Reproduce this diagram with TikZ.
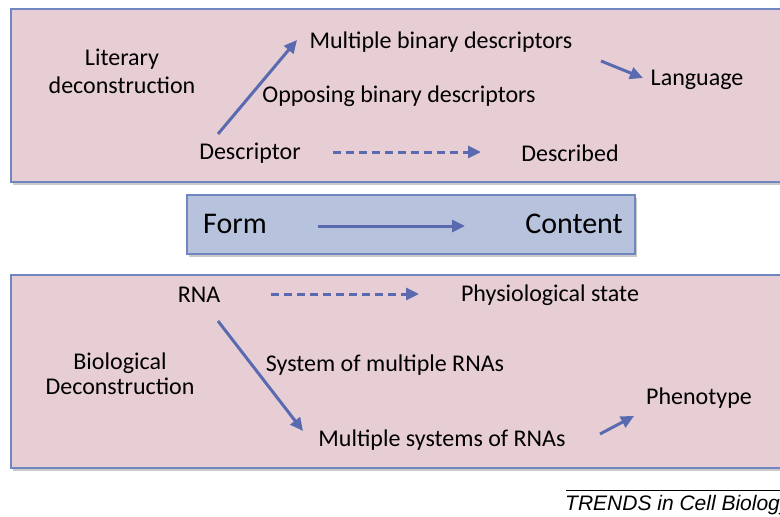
\documentclass[tikz,border=0pt]{standalone}
\usepackage{fontspec}
\setmainfont{Carlito}
\newfontfamily\arialf{Liberation Sans}
\usetikzlibrary{arrows.meta,shadows}
\definecolor{boxpink}{HTML}{E7CED5}
\definecolor{boxblue}{HTML}{B7C2DD}
\definecolor{edgeblue}{HTML}{6F86C0}
\definecolor{arrowblue}{HTML}{5A6AB0}
\tikzset{
  panel/.style={draw=edgeblue, line width=2.6pt, drop shadow={shadow xshift=1.5pt, shadow yshift=-2.5pt, fill=black!35, opacity=0.6}},
  lbl/.style={inner sep=0pt, font=\fontsize{24}{28}\selectfont, text=black},
  big/.style={inner sep=0pt, font=\fontsize{30}{33}\selectfont, text=black},
  conn/.style={draw=arrowblue, line width=3pt, -{Triangle[length=13pt,width=12pt]}, shorten >=0pt},
  dconn/.style={conn, dash pattern=on 8pt off 5pt},
}
\begin{document}
\begin{tikzpicture}[x=1pt,y=-1pt]
\useasboundingbox (0,0) rectangle (780,517);
% panels
\path[panel, fill=boxpink] (11,9) rectangle (795,182);
\path[panel, fill=boxblue] (187,195) rectangle (635,254);
\path[panel, fill=boxpink] (11,275) rectangle (795,468);
% top panel texts
\node[lbl, align=center, font=\fontsize{24}{28}\selectfont] (lit) at (122,71) {Literary\\deconstruction};
\node[lbl] (mult) at (441,42) {Multiple binary descriptors};
\node[lbl] (opp) at (399,96) {Opposing binary descriptors};
\node[lbl] (lang) at (697,80) {Language};
\node[lbl] (desc) at (250,153) {Descriptor};
\node[lbl] (descd) at (570,153) {Described};
\coordinate (a1s) at (218,134);
\coordinate (a1e) at (297,40);
\coordinate (a2s) at (601,61);
\coordinate (a2e) at (643,78);
\coordinate (a3s) at (333,152);
\coordinate (a3e) at (481,152);
\draw[conn] (a1s) -- (a1e);
\draw[conn] (a2s) -- (a2e);
\draw[dconn] (a3s) -- (a3e);
% middle panel
\node[big] (form) at (235,224) {Form};
\node[big] (cont) at (574,224) {Content};
\coordinate (m1s) at (318,226);
\coordinate (m1e) at (465,226);
\draw[conn] (m1s) -- (m1e);
% bottom panel texts
\node[lbl] (rna) at (199,295) {RNA};
\node[lbl] (phys) at (550,295) {Physiological state};
\node[lbl, align=center, font=\fontsize{24}{24.5}\selectfont] (bio) at (120,374) {Biological\\Deconstruction};
\node[lbl] (sys) at (385,365) {System of multiple RNAs};
\node[lbl] (msys) at (442,440) {Multiple systems of RNAs};
\node[lbl] (pheno) at (699,398) {Phenotype};
\coordinate (b1s) at (271,294);
\coordinate (b1e) at (419,294);
\coordinate (b2s) at (218,321);
\coordinate (b2e) at (303,431);
\coordinate (b3s) at (600,434);
\coordinate (b3e) at (634,416);
\draw[dconn] (b1s) -- (b1e);
\draw[conn] (b2s) -- (b2e);
\draw[conn] (b3s) -- (b3e);
% credit
\coordinate (cl) at (566,490);
\coordinate (cr) at (782,490);
\draw[black, line width=1pt] (cl) -- (cr);
\node[inner sep=0pt, anchor=west, font=\arialf\itshape\fontsize{21}{24}\selectfont] (trends) at (565,505) {TRENDS in Cell Biology};
\end{tikzpicture}
\end{document}
